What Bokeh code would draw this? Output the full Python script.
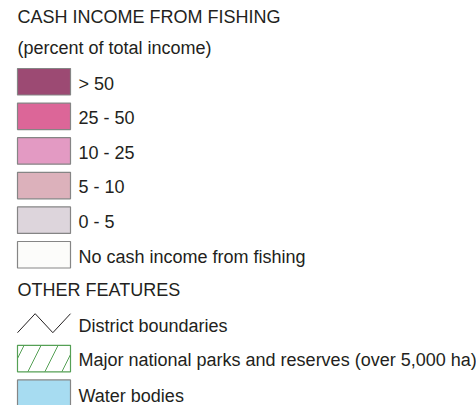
from bokeh.plotting import figure
from bokeh.models import Range1d
from bokeh.core.properties import value
from bokeh.embed import file_html
from bokeh.resources import INLINE

title = "CASH INCOME FROM FISHING"
subtitle = "(percent of total income)"
class_labels = ["> 50", "25 - 50", "10 - 25", "5 - 10", "0 - 5", "No cash income from fishing"]
class_colors = ["#9c4a73", "#dc6698", "#e39ac3", "#dcb1bb", "#ddd5dc", "#fcfcfa"]
other_title = "OTHER FEATURES"
other_labels = ["District boundaries", "Major national parks and reserves (over 5,000 ha)", "Water bodies"]
water_color = "#a7dcf1"
park_color = "#55a055"

FONT = "Liberation Sans"
TXT = "#231f20"
FS = "18px"

W, H = 476, 405
p = figure(width=W, height=H, output_backend="svg", toolbar_location=None,
           x_range=Range1d(0, W), y_range=Range1d(H, 0),
           min_border=0, outline_line_color=None)
p.axis.visible = False
p.grid.visible = False
p.background_fill_color = "white"
p.border_fill_color = "white"

x0, sw, sh = 17, 53, 26.5
tx = 78
top0, pitch = 68, 34.6

def row_top(i):
    return top0 + pitch * i

# headings
p.text(x=[x0, x0], y=[16, 47], text=[title, subtitle], text_font=value(FONT),
       text_font_size=FS, text_color=TXT, text_baseline="middle", text_align="left")

# class swatches
tops = [row_top(i) for i in range(len(class_labels))]
p.quad(left=[x0] * len(tops), right=[x0 + sw] * len(tops), top=tops,
       bottom=[t + sh for t in tops], fill_color=class_colors,
       line_color="#858585", line_width=1.2)
p.text(x=[tx] * len(tops), y=[t + 15 for t in tops], text=class_labels,
       text_font=value(FONT), text_font_size=FS, text_color=TXT,
       text_baseline="middle", text_align="left")

# other features heading
n = len(class_labels)
p.text(x=[x0], y=[row_top(n) + 14], text=[other_title], text_font=value(FONT),
       text_font_size=FS, text_color=TXT, text_baseline="middle", text_align="left")

# district boundaries zigzag
zt = row_top(n + 1) + 3
zb = zt + 19
p.line(x=[x0, x0 + sw / 3, x0 + 2 * sw / 3, x0 + sw], y=[zb, zt, zb, zt],
       line_color="#231f20", line_width=1)

# parks hatch
pt = row_top(n + 2)
p.quad(left=[x0], right=[x0 + sw], top=[pt], bottom=[pt + sh], fill_color="white",
       line_color=park_color, line_width=1.2, hatch_pattern="/",
       hatch_color=park_color, hatch_scale=34, hatch_weight=1)

# water bodies
wt = row_top(n + 3)
p.quad(left=[x0], right=[x0 + sw], top=[wt], bottom=[wt + sh], fill_color=water_color,
       line_color="#858585", line_width=1.2)

p.text(x=[tx] * 3, y=[row_top(n + 1) + 15, pt + 15, wt + 16], text=other_labels,
       text_font=value(FONT), text_font_size=FS, text_color=TXT,
       text_baseline="middle", text_align="left")

open("out.html", "w").write(file_html(p, INLINE))
